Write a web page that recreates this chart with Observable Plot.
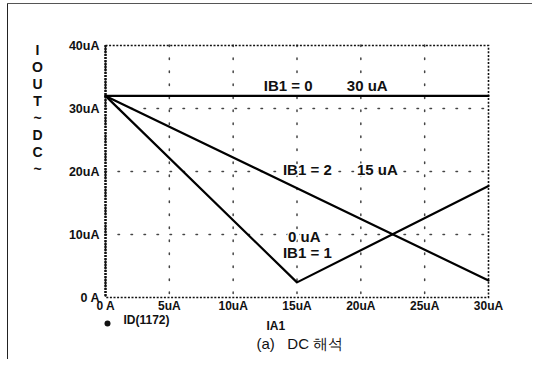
<!DOCTYPE html>
<html>
<head>
<meta charset="utf-8">
<script src="https://cdn.jsdelivr.net/npm/d3@7"></script>
<script src="https://cdn.jsdelivr.net/npm/@observablehq/plot@0.6"></script>
<style>
  html, body { margin: 0; padding: 0; background: #fff; }
  #wrap { position: relative; width: 539px; height: 367px; overflow: hidden; }
  #edgeL { position: absolute; left: 7px; top: 3px; width: 0; height: 356px; border-left: 1.5px solid #222; }
  #edgeT { position: absolute; left: 7px; top: 3px; width: 525px; height: 0; border-top: 1px solid #555; }
  svg text { font-family: "Liberation Sans", Arial, sans-serif; }
</style>
</head>
<body>
<div id="wrap"><div id="edgeL"></div><div id="edgeT"></div></div>
<script>
// ---- data ----
const xTicks = [0, 5, 10, 15, 20, 25, 30];
const xTickLabels = ["0 A", "5uA", "10uA", "15uA", "20uA", "25uA", "30uA"];
const yTicks = [0, 10, 20, 30, 40];
const yTickLabels = ["0 A", "10uA", "20uA", "30uA", "40uA"];

const ib0X = [0, 30];
const ib0Y = [32, 32];
const ib1X = [0, 15, 30];
const ib1Y = [32, 2.4, 17.7];
const ib2X = [0, 30];
const ib2Y = [32, 2.7];

const labelTexts = ["IB1 = 0", "30 uA", "IB1 = 2", "15 uA", "0 uA", "IB1 = 1"];
const labelX = [12.4, 18.9, 13.9, 19.7, 14.3, 13.9];
const labelY = [33.6, 33.6, 20.2, 20.2, 9.6, 7.1];

const yAxisTitle = ["I", "O", "U", "T", "~", "D", "C", "~"];
const legendText = "ID(1172)";
const xAxisTitle = "IA1";
const caption = "(a)   DC 해석";

// ---- build ----
const series = [
  {name: "IB1=0", xs: ib0X, ys: ib0Y},
  {name: "IB1=1", xs: ib1X, ys: ib1Y},
  {name: "IB1=2", xs: ib2X, ys: ib2Y}
];
const lineData = series.flatMap(s => s.xs.map((x, i) => ({series: s.name, x, y: s.ys[i]})));
const labels = labelTexts.map((t, i) => ({t, x: labelX[i], y: labelY[i]}));
const xFmt = new Map(xTicks.map((v, i) => [v, xTickLabels[i]]));
const yFmt = new Map(yTicks.map((v, i) => [v, yTickLabels[i]]));

const chart = Plot.plot({
  width: 539,
  height: 367,
  marginLeft: 105,
  marginRight: 51,
  marginTop: 45,
  marginBottom: 70,
  style: {fontFamily: "Liberation Sans, Arial, sans-serif", background: "transparent", overflow: "visible"},
  x: {domain: [0, 30]},
  y: {domain: [0, 40]},
  marks: [
    // dotted grid
    Plot.ruleY(yTicks.filter(v => v > 0 && v < 40), {stroke: "#444", strokeWidth: 1.5, strokeDasharray: "1.5,11.5", strokeLinecap: "round"}),
    Plot.ruleX(xTicks.filter(v => v > 0 && v < 30), {stroke: "#444", strokeWidth: 1.5, strokeDasharray: "1.5,11.5", strokeLinecap: "round"}),
    // dotted frame
    Plot.frame({stroke: "#111", strokeWidth: 1.6, strokeDasharray: "2,1.6"}),
    Plot.ruleX([0], {stroke: "#111", strokeWidth: 2.4, strokeDasharray: "2,1"}),
    // axes
    Plot.axisX(xTicks, {tickSize: 0, tickPadding: 4, tickFormat: d => xFmt.get(d), fontSize: 12, fontWeight: "bold", fill: "#111", label: null}),
    Plot.axisY(yTicks, {tickSize: 0, tickPadding: 6, tickFormat: d => yFmt.get(d), fontSize: 12.5, fontWeight: "bold", fill: "#111", label: null}),
    // curves
    Plot.line(lineData, {x: "x", y: "y", z: "series", stroke: "#000", strokeWidth: 2.2}),
    // annotations
    Plot.text(labels, {x: "x", y: "y", text: "t", textAnchor: "start", fontSize: 15, fontWeight: "bold", fill: "#111", stroke: "white", strokeWidth: 3, paintOrder: "stroke"}),
    // y axis title (stacked letters)
    Plot.text([yAxisTitle.join("\n")], {frameAnchor: "top-left", dx: -68, dy: -3, lineHeight: 1.22, fontSize: 14, fontWeight: "bold", fill: "#111", textAnchor: "middle", lineAnchor: "top"}),
    // legend marker + name
    Plot.dot([0], {frameAnchor: "bottom-left", dx: 2, dy: 26, r: 3, fill: "#111"}),
    Plot.text([legendText], {frameAnchor: "bottom-left", dx: 18, dy: 26, fontSize: 12, fontWeight: "bold", fill: "#111", textAnchor: "start"}),
    // x axis title
    Plot.text([xAxisTitle], {frameAnchor: "bottom-left", dx: 161, dy: 32, fontSize: 12, fontWeight: "bold", fill: "#111", textAnchor: "start"}),
    // caption
    Plot.text([caption], {frameAnchor: "bottom-left", dx: 151, dy: 51, fontSize: 15, fill: "#111", textAnchor: "start"})
  ]
});
chart.style.position = "absolute";
chart.style.left = "0px";
chart.style.top = "0px";
document.getElementById("wrap").appendChild(chart);
</script>
</body>
</html>
